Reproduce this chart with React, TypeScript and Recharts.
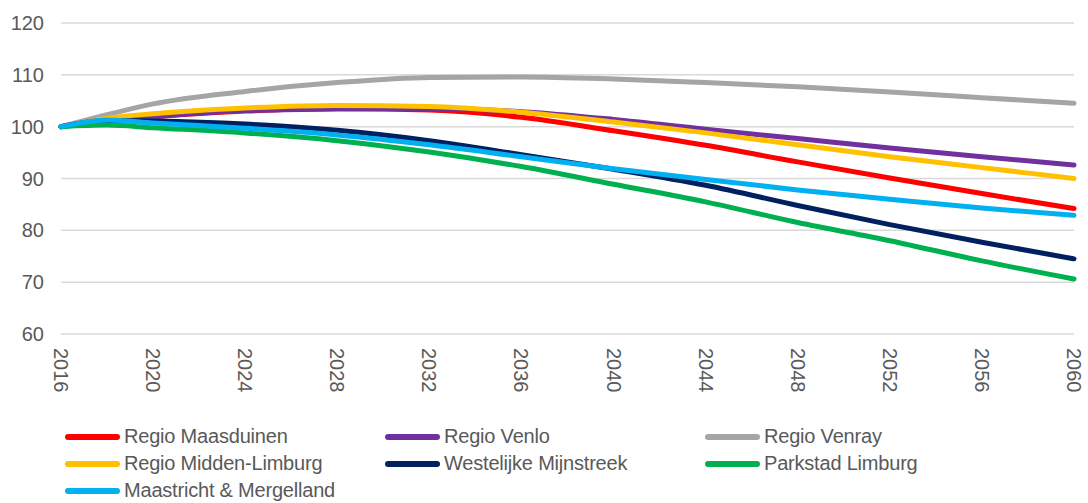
import React from "react"
import { LineChart, Line, XAxis, YAxis, CartesianGrid, Legend } from "recharts"

const years = [2016, 2018, 2020, 2024, 2028, 2032, 2036, 2040, 2044, 2048, 2052, 2056, 2060]

const maasduinen = [100, 101.2, 101.9, 103.0, 103.5, 103.2, 101.8, 99.2, 96.4, 93.2, 90.1, 87.1, 84.2]
const venlo = [100, 101.2, 101.9, 103.1, 103.4, 103.5, 102.9, 101.4, 99.5, 97.7, 95.9, 94.2, 92.6]
const venray = [100, 102.3, 104.4, 106.8, 108.5, 109.5, 109.6, 109.2, 108.5, 107.7, 106.7, 105.6, 104.5]
const middenLimburg = [100, 101.6, 102.5, 103.6, 104.1, 103.9, 102.8, 100.9, 98.8, 96.5, 94.2, 92.1, 90.0]
const westelijkeMijnstreek = [100, 101.2, 101.1, 100.5, 99.3, 97.3, 94.6, 91.8, 88.7, 84.8, 81.1, 77.7, 74.5]
const parkstad = [100, 100.3, 99.8, 98.8, 97.3, 95.1, 92.3, 88.9, 85.5, 81.5, 78.0, 74.1, 70.6]
const maastricht = [100, 101.3, 100.7, 99.7, 98.4, 96.5, 94.2, 91.9, 89.8, 87.8, 86.0, 84.3, 82.9]

const xTicks = [2016, 2020, 2024, 2028, 2032, 2036, 2040, 2044, 2048, 2052, 2056, 2060]
const yTicks = [60, 70, 80, 90, 100, 110, 120]

const series = [
  { key: "maasduinen", name: "Regio Maasduinen", color: "#ff0000", values: maasduinen },
  { key: "venlo", name: "Regio Venlo", color: "#7030a0", values: venlo },
  { key: "venray", name: "Regio Venray", color: "#a5a5a5", values: venray },
  { key: "middenLimburg", name: "Regio Midden-Limburg", color: "#ffc000", values: middenLimburg },
  { key: "westelijk", name: "Westelijke Mijnstreek", color: "#002060", values: westelijkeMijnstreek },
  { key: "parkstad", name: "Parkstad Limburg", color: "#00b050", values: parkstad },
  { key: "maastricht", name: "Maastricht & Mergelland", color: "#00b0f0", values: maastricht },
]

const data = years.map((year, i) => {
  const row: Record<string, number> = { year }
  series.forEach((s) => {
    row[s.key] = s.values[i]
  })
  return row
})

const textColor = "#595959"
const font = "Arial, 'Liberation Sans', sans-serif"

// eslint-disable-next-line @typescript-eslint/no-explicit-any
function YearTick({ x, y, payload }: any) {
  return (
    <text
      transform={`translate(${x}, ${y + 6}) rotate(90)`}
      textAnchor="start"
      dominantBaseline="central"
      fill={textColor}
      fontSize={20}
      fontFamily={font}
    >
      {payload.value}
    </text>
  )
}

function LegendBlock() {
  return (
    <div
      style={{
        display: "grid",
        gridTemplateColumns: "320px 320px 320px",
        width: 1000,
        fontFamily: font,
        fontSize: 20,
        color: textColor,
      }}
    >
      {series.map((s) => (
        <div key={s.key} style={{ display: "flex", alignItems: "center", height: 27 }}>
          <span
            style={{
              display: "inline-block",
              width: 55,
              height: 6,
              borderRadius: 3,
              background: s.color,
              marginRight: 4,
            }}
          />
          <span style={{ letterSpacing: -0.2 }}>{s.name}</span>
        </div>
      ))}
    </div>
  )
}

export default function App() {
  return (
    <div style={{ position: "absolute", left: 0, top: 0, background: "#fff" }}>
      <LineChart
        width={1088}
        height={503}
        data={data}
        margin={{ top: 23, right: 14, left: 11, bottom: 109 }}
      >
        <CartesianGrid vertical={false} stroke="#d9d9d9" strokeWidth={1.5} />
        <XAxis
          dataKey="year"
          type="number"
          domain={[2016, 2060]}
          ticks={xTicks}
          tick={<YearTick />}
          tickLine={false}
          axisLine={false}
          height={60}
          interval={0}
        />
        <YAxis
          domain={[60, 120]}
          ticks={yTicks}
          tickLine={false}
          axisLine={false}
          tickSize={0}
          tickMargin={17}
          width={50}
          tick={{ fill: textColor, fontSize: 20, fontFamily: font }}
        />
        <Legend
          layout="horizontal"
          verticalAlign="middle"
          align="center"
          content={() => <LegendBlock />}
          wrapperStyle={{ position: "absolute", left: 65, top: 423, width: 1000 }}
        />
        {series.map((s) => (
          <Line
            key={s.key}
            type="monotone"
            dataKey={s.key}
            name={s.name}
            stroke={s.color}
            strokeWidth={5}
            strokeLinecap="round"
            dot={false}
            activeDot={false}
            isAnimationActive={false}
          />
        ))}
      </LineChart>
    </div>
  )
}
